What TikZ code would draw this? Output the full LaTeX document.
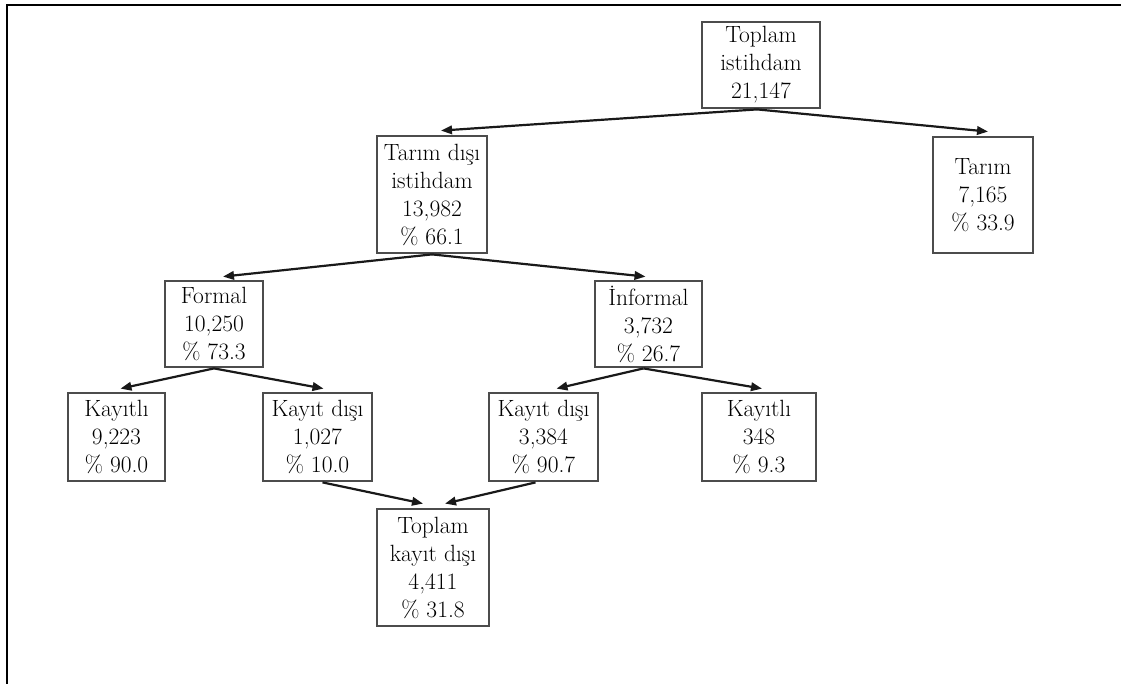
\documentclass[tikz,border=0pt]{standalone}
\usetikzlibrary{arrows.meta,calc}
\begin{document}
\begin{tikzpicture}[x=1pt,y=-1pt,
  bx/.style={draw=black!70, line width=2.8pt, align=center, inner sep=0pt,
    font=\fontsize{23.5}{28}\selectfont},
  arr/.style={line width=2.2pt, draw=black!90, -{Triangle[length=11pt,width=8.5pt]}},
  frame/.style={line width=2.2pt, draw=black}]
\useasboundingbox (0,0) rectangle (1121,684);
\draw[frame] (7,684) coordinate (fbl) -- (7,5) coordinate (ftl) -- (1121,5) coordinate (ftr);

\node[bx, minimum width=118, minimum height=86] (top) at (761,65) {Toplam\\istihdam\\21,147};
\node[bx, minimum width=110, minimum height=117] (tdisi) at (432,194.5) {Tarım dışı\\istihdam\\13,982\\\% 66.1};
\node[bx, minimum width=100, minimum height=116] (tarim) at (983,195) {Tarım\\7,165\\\% 33.9};
\node[bx, minimum width=98, minimum height=86] (formal) at (214,324) {Formal\\10,250\\\% 73.3};
\node[bx, minimum width=107, minimum height=86] (informal) at (648.5,324) {İnformal\\3,732\\\% 26.7};
\node[bx, minimum width=97, minimum height=88] (kay1) at (116.5,437) {Kayıtlı\\9,223\\\% 90.0};
\node[bx, minimum width=109, minimum height=88] (kd1) at (317.5,437) {Kayıt dışı\\1,027\\\% 10.0};
\node[bx, minimum width=109, minimum height=88] (kd2) at (543.5,437) {Kayıt dışı\\3,384\\\% 90.7};
\node[bx, minimum width=114, minimum height=88] (kay2) at (759,437) {Kayıtlı\\348\\\% 9.3};
\node[bx, minimum width=112, minimum height=117] (tkd) at (433,567.5) {Toplam\\kayıt dışı\\4,411\\\% 31.8};

\draw[arr] ($(top.south)+(-4,0)$) -- ($(tdisi.north)+(9,-4)$);
\draw[arr] ($(top.south)+(-4,0)$) -- ($(tarim.north)+(5,-4)$);
\draw[arr] (tdisi.south) -- ($(formal.north)+(9,-3)$);
\draw[arr] (tdisi.south) -- ($(informal.north)+(-3,-3)$);
\draw[arr] (formal.south) -- ($(kay1.north)+(4,-3)$);
\draw[arr] (formal.south) -- ($(kd1.north)+(6,-3)$);
\draw[arr] ($(informal.south)+(-5,0)$) -- ($(kd2.north)+(13,-3)$);
\draw[arr] ($(informal.south)+(-5,0)$) -- ($(kay2.north)+(3,-3)$);
\draw[arr] ($(kd1.south)+(5,0)$) -- ($(tkd.north)+(-10,-4)$);
\draw[arr] ($(kd2.south)+(-8,0)$) -- ($(tkd.north)+(12,-4)$);
\end{tikzpicture}
\end{document}
